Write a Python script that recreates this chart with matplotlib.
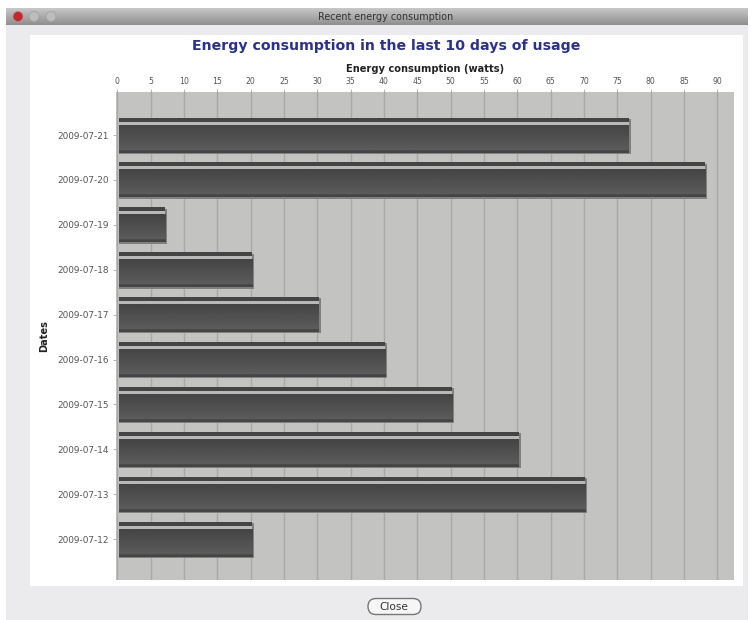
import numpy as np
import matplotlib
matplotlib.use("Agg")
import matplotlib.pyplot as plt
from matplotlib.patches import Rectangle, Circle, FancyBboxPatch

dates = ["2009-07-21", "2009-07-20", "2009-07-19", "2009-07-18", "2009-07-17",
         "2009-07-16", "2009-07-15", "2009-07-14", "2009-07-13", "2009-07-12"]
watts = [76.5, 88, 7, 20, 30, 40, 50, 60, 70, 20]
x_ticks = list(range(0, 95, 5))

W, H = 754, 620
fig = plt.figure(figsize=(W / 100, H / 100), dpi=100, facecolor="white")

# Application window drawn in pixel coordinates
chrome = fig.add_axes([0, 0, 1, 1], zorder=0)
chrome.set_xlim(0, W)
chrome.set_ylim(H, 0)
chrome.axis("off")
chrome.add_patch(Rectangle((6, 25), 742, 595, fc="#ebebed", ec="none"))
title_bar = np.linspace(0.78, 0.56, 32).reshape(-1, 1)
chrome.imshow(title_bar, extent=(6, 748, 25, 8), cmap="gray", vmin=0, vmax=1,
              aspect="auto", zorder=1)
chrome.set_xlim(0, W)
chrome.set_ylim(H, 0)
chrome.add_patch(Rectangle((30, 35), 713, 551, fc="white", ec="none", zorder=1))
for cx, col in zip((18, 34, 51), ("#c8262c", "#bdbdbd", "#bdbdbd")):
    chrome.add_patch(Circle((cx, 16.5), 5, fc=col, ec="#9a9a9a", lw=0.4, zorder=2))
chrome.text(386, 17, "Recent energy consumption", ha="center", va="center",
            fontsize=6.9, color="#333333", zorder=2)
chrome.add_patch(FancyBboxPatch((368, 598.5), 53, 16, boxstyle="round,pad=0,rounding_size=8",
                                fc="#f6f6f6", ec="#777777", lw=1.0, zorder=2))
chrome.text(394, 607, "Close", ha="center", va="center", fontsize=7.6,
            color="#333333", zorder=3)
chrome.text(386, 46, "Energy consumption in the last 10 days of usage", ha="center",
            va="center", fontsize=10.2, fontweight="bold", color="#2b3095", zorder=3)

# Horizontal bar chart with the value axis along the top
ax = fig.add_axes([116 / W, 1 - 580 / H, (734 - 116) / W, (580 - 92) / H], zorder=1)
ax.set_facecolor("#c3c3c2")
ax.xaxis.tick_top()
ax.xaxis.set_label_position("top")
ax.set_xticks(x_ticks)
ax.set_xticklabels([str(t) for t in x_ticks])
ax.set_yticks(range(len(dates)))
ax.set_yticklabels(dates)
ax.tick_params(axis="x", labelsize=5.6, labelcolor="#555555", color="#aaaaaa",
               length=2, width=0.6, pad=2)
ax.tick_params(axis="y", labelsize=6.4, labelcolor="#555555", color="#aaaaaa",
               length=2, width=0.6, pad=3)
ax.set_xlabel("Energy consumption (watts)", fontsize=7.1, fontweight="bold",
              color="#222222", labelpad=4)
ax.set_ylabel("Dates", fontsize=7.1, fontweight="bold", color="#222222", labelpad=6)
ax.grid(axis="x", color="#a9a9a9", lw=1.0, zorder=1)
ax.set_axisbelow(True)
for side in ax.spines.values():
    side.set_visible(False)

gradient = np.concatenate([np.linspace(0.27, 0.36, 28), np.full(3, 0.27)]).reshape(-1, 1)
rows = np.arange(len(dates))
for y, v in zip(rows, watts):
    # soft shadow, top rim, highlight strip and shaded body of the bar
    ax.barh(y + 0.03, v + 0.3, height=0.78, left=0.2, color="#808080", zorder=2)
    ax.barh(y - 0.345, v, height=0.09, left=0.2, color="#444444", zorder=3)
    ax.barh(y - 0.265, v, height=0.07, left=0.2, color="#b8b8b8", zorder=3)
    ax.imshow(gradient, extent=(0.2, v + 0.2, y + 0.39, y - 0.23), cmap="gray", vmin=0, vmax=1,
              aspect="auto", zorder=3, origin="upper")
ax.set_xlim(-0.2, 92.5)
ax.set_ylim(9.91, -0.958)

fig.savefig("out.png", dpi=100, facecolor="white")
